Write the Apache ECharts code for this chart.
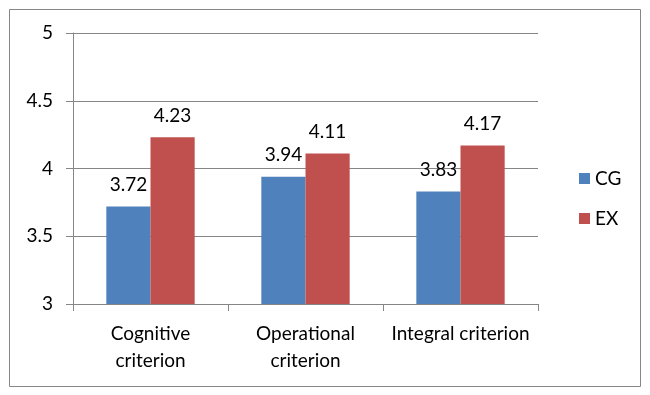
<!DOCTYPE html>
<html>
<head>
<meta charset="utf-8">
<script src="https://cdn.jsdelivr.net/npm/echarts@6/dist/echarts.min.js"></script>
<style>
  html, body { margin: 0; padding: 0; background: #fff; }
  #chart { width: 650px; height: 395px; }
</style>
</head>
<body>
<div id="chart"></div>
<script>
const categories = ['Cognitive\ncriterion', 'Operational\ncriterion', 'Integral criterion'];
const cgValues = [3.72, 3.94, 3.83];
const exValues = [4.23, 4.11, 4.17];
const yTicks = [3, 3.5, 4, 4.5, 5];

const chart = echarts.init(document.getElementById('chart'));

const fontFamily = 'Lato, "Open Sans", sans-serif';
const fontSize = 19;
const gridColor = '#868686';

const labelStyle = {
    show: true,
    position: 'top',
    distance: 12,
    fontSize: fontSize,
    fontFamily: fontFamily,
    color: '#000',
};

chart.setOption({
    animation: false,
    graphic: [
        {
            type: 'rect',
            shape: { x: 9.5, y: 9.5, width: 631, height: 377 },
            style: { fill: 'none', stroke: gridColor, lineWidth: 1 },
        },
    ],
    grid: {
        left: 73,
        right: 112,
        top: 33,
        bottom: 91,
        containLabel: false,
    },
    legend: {
        orient: 'vertical',
        left: 574,
        top: 164,
        itemWidth: 11,
        itemHeight: 11,
        itemGap: 21,
        icon: 'rect',
        textStyle: { fontSize: fontSize, fontFamily: fontFamily, color: '#000' },
        data: ['CG', 'EX'],
    },
    xAxis: {
        type: 'category',
        data: categories,
        axisLine: { lineStyle: { color: gridColor } },
        axisTick: { show: true, length: 7, lineStyle: { color: gridColor } },
        axisLabel: {
            fontSize: fontSize,
            fontFamily: fontFamily,
            color: '#000',
            margin: 16,
            lineHeight: 27,
            interval: 0,
        },
    },
    yAxis: {
        type: 'value',
        min: yTicks[0],
        max: yTicks[yTicks.length - 1],
        interval: 0.5,
        axisLine: { show: true, lineStyle: { color: gridColor } },
        axisTick: { show: true, length: 7, lineStyle: { color: gridColor } },
        axisLabel: {
            fontSize: fontSize,
            fontFamily: fontFamily,
            color: '#000',
            margin: 20,
        },
        splitLine: { lineStyle: { color: gridColor, width: 1 } },
    },
    series: [
        {
            name: 'CG',
            type: 'bar',
            data: cgValues,
            barGap: '0%',
            barCategoryGap: '43%',
            itemStyle: { color: '#4F81BD' },
            label: labelStyle,
        },
        {
            name: 'EX',
            type: 'bar',
            data: exValues,
            barGap: '0%',
            barCategoryGap: '43%',
            itemStyle: { color: '#C0504D' },
            label: labelStyle,
        },
    ],
});
</script>
</body>
</html>
